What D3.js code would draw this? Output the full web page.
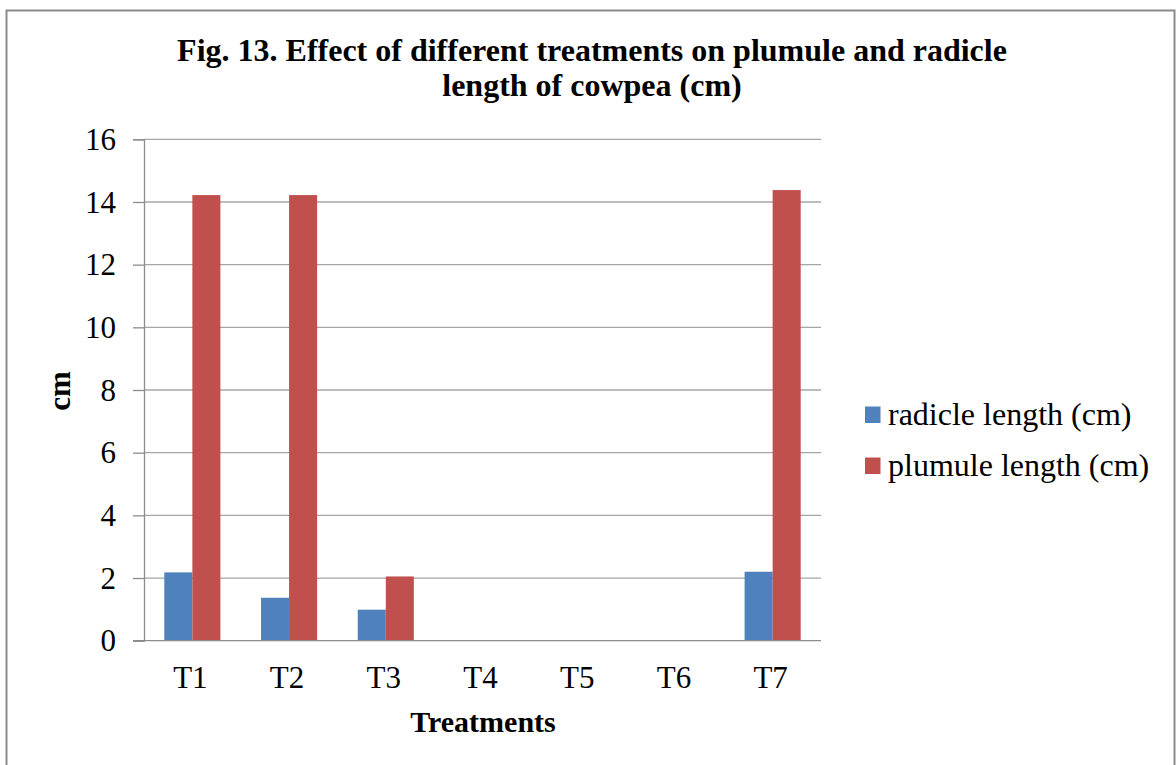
<!DOCTYPE html>
<html>
<head>
<meta charset="utf-8">
<script src="https://cdn.jsdelivr.net/npm/d3@7"></script>
<style>
  html, body { margin: 0; padding: 0; background: #fff; }
  svg { display: block; }
  text { font-family: "Liberation Serif", "Times New Roman", serif; fill: #000; }
</style>
</head>
<body>
<svg id="chart" width="1176" height="765"></svg>
<script>
const categories = ["T1", "T2", "T3", "T4", "T5", "T6", "T7"];
const seriesNames = ["radicle length (cm)", "plumule length (cm)"];
const radicle = [2.18, 1.37, 0.99, 0, 0, 0, 2.2];
const plumule = [14.22, 14.22, 2.05, 0, 0, 0, 14.38];
const yTicks = [0, 2, 4, 6, 8, 10, 12, 14, 16];
const colors = ["#4F81BD", "#C0504D"];
const titleLines = ["Fig. 13. Effect of different treatments on plumule and radicle", "length of cowpea (cm)"];
const xTitle = "Treatments";
const yTitle = "cm";

const svg = d3.select("#chart");
const plotLeft = 144, plotRight = 821, plotTop = 139.3, plotBottom = 640.7;

// outer border
svg.append("rect").attr("x", 6.5).attr("y", 10.5).attr("width", 1168).attr("height", 800)
  .attr("fill", "none").attr("stroke", "#8a8a8a").attr("stroke-width", 2);

const y = d3.scaleLinear().domain([0, 16]).range([plotBottom, plotTop]);
const x0 = d3.scaleBand().domain(categories).range([plotLeft, plotRight]).paddingInner(0.42).paddingOuter(0.21);
const x1 = d3.scaleBand().domain([0, 1]).range([0, x0.bandwidth()]);

// gridlines
svg.append("g").selectAll("line").data(yTicks.filter(t => t > 0)).join("line")
  .attr("x1", plotLeft).attr("x2", plotRight)
  .attr("y1", d => y(d)).attr("y2", d => y(d))
  .attr("stroke", "#a6a6a6").attr("stroke-width", 1.3);

// y axis
const yAxis = d3.axisLeft(y).tickValues(yTicks).tickSize(11).tickPadding(17).tickFormat(d3.format("d"));
const gy = svg.append("g").attr("transform", `translate(${plotLeft},0)`).call(yAxis);
gy.select(".domain").attr("stroke", "#8c8c8c").attr("stroke-width", 1.3);
gy.selectAll(".tick line").attr("stroke", "#8c8c8c").attr("stroke-width", 1.3);
gy.selectAll(".tick text").attr("font-family", "Liberation Serif, serif").attr("font-size", 31).attr("fill", "#000").attr("dy", "0.33em");

// bars
const data = categories.map((c, i) => ({ c, vals: [radicle[i], plumule[i]] }));
const groups = svg.append("g").selectAll("g").data(data).join("g")
  .attr("transform", d => `translate(${x0(d.c)},0)`);
groups.selectAll("rect").data(d => d.vals.map((v, k) => ({ v, k }))).join("rect")
  .attr("x", d => x1(d.k)).attr("width", x1.bandwidth())
  .attr("y", d => y(d.v)).attr("height", d => plotBottom - y(d.v))
  .attr("fill", d => colors[d.k]);

// x axis baseline
svg.append("line").attr("x1", plotLeft - 11).attr("x2", plotRight).attr("y1", plotBottom).attr("y2", plotBottom)
  .attr("stroke", "#8c8c8c").attr("stroke-width", 1.3);

// x labels
svg.append("g").selectAll("text").data(categories).join("text")
  .attr("x", d => x0(d) + x0.bandwidth() / 2 - 2).attr("y", 687.5)
  .attr("text-anchor", "middle").attr("font-size", 31).text(d => d);

// titles
svg.append("g").selectAll("text").data(titleLines).join("text")
  .attr("x", 592).attr("y", (d, i) => 61 + i * 35)
  .attr("text-anchor", "middle").attr("font-size", 32).attr("font-weight", "bold").text(d => d);

svg.append("text").attr("x", 483).attr("y", 731.5).attr("text-anchor", "middle")
  .attr("font-size", 30).attr("font-weight", "bold").text(xTitle);

svg.append("text").attr("transform", "translate(70,391) rotate(-90)").attr("text-anchor", "middle")
  .attr("font-size", 31).attr("font-weight", "bold").text(yTitle);

// legend
const lg = svg.append("g").selectAll("g").data(seriesNames).join("g")
  .attr("transform", (d, i) => `translate(865,${425 + i * 51})`);
lg.append("rect").attr("x", 0).attr("y", -18.5).attr("width", 15.5).attr("height", 16.5)
  .attr("fill", (d, i) => colors[i]);
lg.append("text").attr("x", 23).attr("y", 0).attr("font-size", 32).text(d => d);
</script>
</body>
</html>
